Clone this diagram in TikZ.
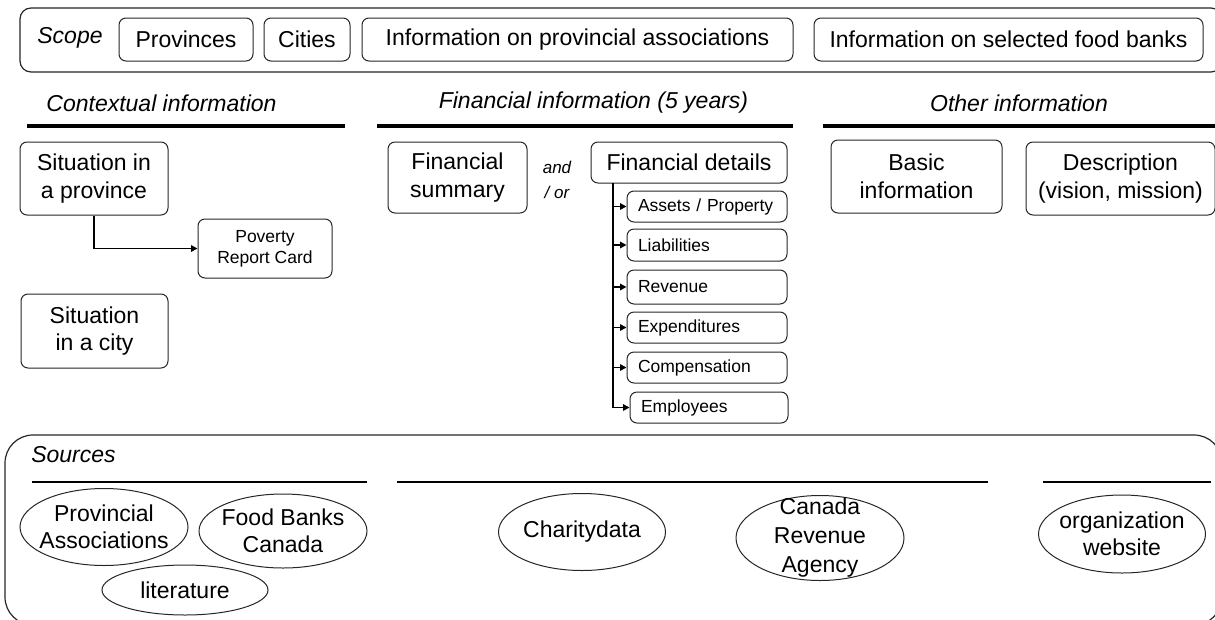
\documentclass[tikz,border=0pt]{standalone}
\usepackage{fontspec}
\setmainfont{Liberation Sans}
\usetikzlibrary{shapes.geometric,arrows.meta}
\begin{document}
\begin{tikzpicture}[x=1pt,y=-1pt,
  big/.style={font=\fontsize{23}{27.5}\selectfont},
  small/.style={font=\fontsize{17.5}{21}\selectfont},
  head/.style={font=\fontsize{23}{27.5}\selectfont\itshape, inner sep=0pt},
  rbox/.style={draw=black!85, line width=1pt, rounded corners=7pt, align=center, inner sep=0pt},
  subbox/.style={rbox, small, minimum width=160pt, text width=138pt, align=left, inner xsep=11pt, inner ysep=0pt},
  src/.style={draw=black!85, line width=1pt, ellipse, inner sep=0pt},
  srctext/.style={big, align=center, inner sep=0pt},
  sepline/.style={line width=4pt},
  thinsep/.style={line width=1.8pt},
  conn/.style={line width=1.8pt, -{Triangle[length=6.5pt,width=6.5pt]}},
]
\useasboundingbox (0,0) rectangle (1215,619);

% Scope
\node[rbox, rounded corners=11pt, line width=1.2pt, minimum width=1202pt, minimum height=64pt] (scopebox) at (621,40) {};
\node[head] (scope) at (70,38) {Scope};
\node[rbox, big, minimum width=134pt, minimum height=43pt] (prov) at (186,39.5) {Provinces};
\node[rbox, big, minimum width=86pt, minimum height=43pt] (cities) at (307,39.5) {Cities};
\node[rbox, big, minimum width=431pt, minimum height=43pt] (infopa) at (577.5,39.5) {Information on provincial associations};
\node[rbox, big, minimum width=389pt, minimum height=43pt] (infofb) at (1008.5,39.5) {Information on selected food banks};

% Headings
\node[head] (hctx) at (161.5,103) {Contextual information};
\node[head] (hfin) at (593.5,103) {Financial information (5 years)};
\node[head] (hoth) at (1019,103) {Other information};
\coordinate (l1a) at (27,126); \coordinate (l1b) at (345,126);
\coordinate (l2a) at (377,126); \coordinate (l2b) at (793,126);
\coordinate (l3a) at (823,126); \coordinate (l3b) at (1222,126);
\draw[sepline] (l1a) -- (l1b);
\draw[sepline] (l2a) -- (l2b);
\draw[sepline] (l3a) -- (l3b);

% Contextual
\node[rbox, big, minimum width=148pt, minimum height=73pt] (sitprov) at (94,178.5) {Situation in\\a province};
\node[rbox, small, minimum width=134pt, minimum height=59pt] (poverty) at (265,248.5) {Poverty\\Report Card};
\node[rbox, big, minimum width=147pt, minimum height=74pt] (sitcity) at (94.5,331) {Situation\\in a city};
\draw[conn] (sitprov.south) |- (poverty.west);

% Financial
\node[rbox, big, minimum width=139pt, minimum height=71pt] (finsum) at (457.5,177.5) {Financial\\summary};
\node[font=\fontsize{17}{25}\selectfont\itshape, align=center, inner sep=0pt] (andor) at (557,180) {and\\/ or};
\node[rbox, big, minimum width=196pt, minimum height=41pt] (findet) at (689,162.5) {Financial details};
\node[subbox, minimum height=31pt] (assets) at (707,206.5) {Assets / Property};
\node[subbox, minimum height=32pt] (liab) at (707,245) {Liabilities};
\node[subbox, minimum height=34pt] (rev) at (707,287) {Revenue};
\node[subbox, minimum height=31pt] (expe) at (707,327.5) {Expenditures};
\node[subbox, minimum height=31pt] (comp) at (707,367.5) {Compensation};
\node[subbox, minimum width=158pt, text width=136pt, minimum height=31pt] (empl) at (709,407.5) {Employees};
\coordinate (trunk) at (613,183);
\draw[conn] (trunk) |- (empl.west);
\foreach \b in {assets,liab,rev,expe,comp}
  \draw[conn] (trunk |- \b.west) -- (\b.west);

% Other
\node[rbox, big, minimum width=171pt, minimum height=73pt] (basic) at (916.5,176.5) {Basic\\information};
\node[rbox, big, minimum width=189pt, minimum height=73pt] (desc) at (1120.5,178.5) {Description\\(vision, mission)};

% Sources
\node[rbox, rounded corners=28pt, line width=1.2pt, minimum width=1217pt, minimum height=190pt] (sources) at (613.5,530) {};
\node[head] (srclabel) at (73.5,455) {Sources};
\coordinate (s1a) at (32,482); \coordinate (s1b) at (367,482);
\coordinate (s2a) at (397,482); \coordinate (s2b) at (988,482);
\coordinate (s3a) at (1043,482); \coordinate (s3b) at (1211,482);
\draw[thinsep] (s1a) -- (s1b);
\draw[thinsep] (s2a) -- (s2b);
\draw[thinsep] (s3a) -- (s3b);
\node[src, minimum width=168pt, minimum height=77pt] (provassoc) at (104,527) {};
\node[srctext] (provassoct) at (provassoc) {Provincial\\Associations};
\node[src, minimum width=168pt, minimum height=74pt] (fbc) at (283,531) {};
\node[srctext] (fbct) at (fbc) {Food Banks\\Canada};
\node[src, minimum width=166pt, minimum height=50pt] (lit) at (185,590) {};
\node[srctext] (litt) at (lit) {literature};
\node[src, minimum width=167pt, minimum height=77pt] (charity) at (582,532) {};
\node[srctext] (charityt) at (charity) {Charitydata};
\node[src, minimum width=168pt, minimum height=85pt] (cra) at (820,538) {};
\node[srctext, font=\fontsize{23}{29}\selectfont] (crat) at (cra) {Canada\\Revenue\\Agency};
\node[src, minimum width=167pt, minimum height=78pt] (org) at (1122,534) {};
\node[srctext] (orgt) at (org) {organization\\website};
\end{tikzpicture}
\end{document}
